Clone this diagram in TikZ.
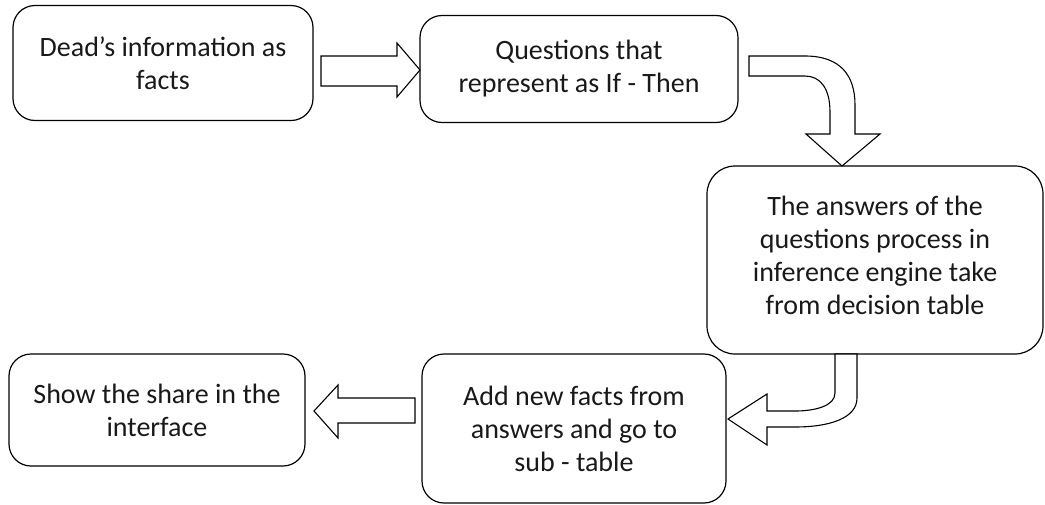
\documentclass[tikz,border=0pt]{standalone}
\usepackage{fontspec}
\setmainfont{Carlito}
\begin{document}
\begin{tikzpicture}[x=1pt,y=-1pt,
  stepbox/.style={draw=black, line width=1.2pt, rounded corners=22pt, align=center,
    font=\fontsize{28}{33}\selectfont, text=black!90, inner sep=0pt},
  steptext/.style={align=center, font=\fontsize{28}{33}\selectfont, text=black!90, inner sep=0pt},
  blockarrow/.style={draw=black, line width=1.1pt, fill=white, line join=miter}]
\useasboundingbox (0,0) rectangle (1045,504);

% process steps
\node[stepbox, minimum width=300pt, minimum height=115pt] (facts) at (163,63)
  {Dead’s information as\\facts};
\node[stepbox, minimum width=318pt, minimum height=107pt] (quest) at (579,69)
  {Questions that\\represent as If - Then};
\node[stepbox, rounded corners=28pt, minimum width=336pt, minimum height=188pt,
  label={[steptext, yshift=5pt]center:{The answers of the\\questions process in\\inference engine take\\from decision table}}] (answ) at (875,260) {};
\node[stepbox, minimum width=304pt, minimum height=149pt] (addf) at (574,428.5)
  {Add new facts from\\answers and go to\\sub - table};
\node[stepbox, minimum width=296pt, minimum height=112pt] (show) at (157,410)
  {Show the share in the\\interface};

% facts -> questions
\draw[blockarrow] (321,56) -- (397,56) -- (397,43) -- (420,70) -- (397,97) -- (397,86) -- (321,86) -- cycle;

% questions -> answers (bent downwards)
\draw[blockarrow] (749,56) -- (805,56) .. controls (840,56) and (855,75) .. (855,105) -- (855,134)
  -- (880,134) -- (842,166) -- (806,134) -- (830,134) -- (830,112)
  .. controls (830,88) and (820,76) .. (805,76) -- (749,76) -- cycle;

% answers -> new facts (bent to the left)
\draw[blockarrow] (835,354) -- (835,393) .. controls (835,406) and (815,411) .. (795,411) -- (767,411)
  -- (767,394) -- (728,419) -- (767,445) -- (767,427) -- (795,427)
  .. controls (830,427) and (857,418) .. (857,398) -- (857,354) -- cycle;

% new facts -> interface
\draw[blockarrow] (415,398) -- (338,398) -- (338,385) -- (314,411) -- (338,438) -- (338,423) -- (415,423) -- cycle;
\end{tikzpicture}
\end{document}
